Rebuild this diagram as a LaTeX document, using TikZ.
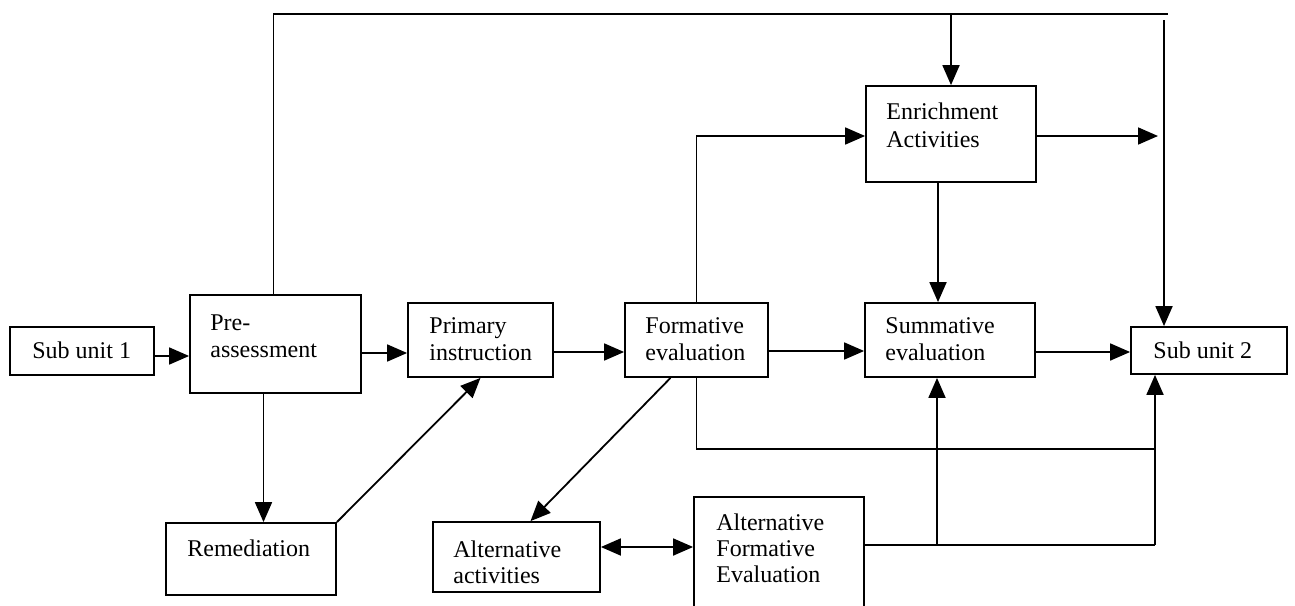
\documentclass[tikz,border=0pt]{standalone}
\usepackage{fontspec}
\setmainfont{Liberation Serif}
\usetikzlibrary{arrows.meta,fit}
\begin{document}
\begin{tikzpicture}[x=0.5pt,y=-0.5pt,
  box/.style={draw, line width=0.9pt, inner sep=0pt, rectangle},
  lbl/.style={anchor=base west, inner sep=0pt, align=left, font=\fontsize{12}{13.5}\selectfont},
  conn/.style={line width=0.9pt},
  arr/.style={conn, -{Triangle[length=10pt,width=8.5pt]}},
  darr/.style={conn, {Triangle[length=10pt,width=8.5pt]}-{Triangle[length=10pt,width=8.5pt]}}]
\clip (0,0) rectangle (1295,605);
\fill[white] (0,0) rectangle (1295,605);
% boxes
\node[box, fit={(10,327) (154,375)}] (su1) {};
\node[box, fit={(190,295) (361,393)}] (pre) {};
\node[box, fit={(408,303) (553,377)}] (prim) {};
\node[box, fit={(625,303) (768,377)}] (form) {};
\node[box, fit={(865,303) (1035,377)}] (summ) {};
\node[box, fit={(1131,327) (1287,374)}] (su2) {};
\node[box, fit={(866,86) (1036,182)}] (enr) {};
\node[box, fit={(166,523) (336,595)}] (rem) {};
\node[box, fit={(433,522) (600,592)}] (aact) {};
\node[box, fit={(694,497) (864,640)}] (afe) {};
% texts (base anchor = baseline of the last line)
\node[lbl] (su1t) at (32,358) {Sub unit 1};
\node[lbl] (pret) at (210,357) {Pre-\\assessment};
\node[lbl] (primt) at (429,360) {Primary\\instruction};
\node[lbl] (formt) at (645,360) {Formative\\evaluation};
\node[lbl] (summt) at (885,360) {Summative\\evaluation};
\node[lbl] (su2t) at (1153,358) {Sub unit 2};
\node[lbl, font=\fontsize{12}{14}\selectfont] (enrt) at (886,147) {Enrichment\\Activities};
\node[lbl] (remt) at (187,556) {Remediation};
\node[lbl, font=\fontsize{12}{13}\selectfont] (aactt) at (453,583) {Alternative\\activities};
\node[lbl, font=\fontsize{12}{13}\selectfont] (afet) at (716,582) {Alternative\\Formative\\Evaluation};
% coordinates
\coordinate (topR) at (1168,14);
\coordinate (rTop) at (1164,20);
\coordinate (bR) at (1155,449);
\coordinate (bR2) at (1155,545);
\coordinate (sB) at (937,545);
% main row
\draw[arr] ([yshift=-2.5pt]su1.east) -- ([yshift=-2.5pt]su1.east -| pre.west);
\draw[arr] ([yshift=-4.5pt]pre.east) -- ([yshift=-4.5pt]pre.east -| prim.west);
\draw[arr] ([yshift=-6pt]prim.east) -- ([yshift=-6pt]prim.east -| form.west);
\draw[arr] ([yshift=-5.5pt]form.east) -- ([yshift=-5.5pt]form.east -| summ.west);
\draw[arr] ([yshift=-6pt]summ.east) -- ([yshift=-6pt]summ.east -| su2.west);
% top loop
\draw[conn] ([xshift=-1pt]pre.north) |- (topR);
\draw[arr] (enr.north |- topR) -- (enr.north);
\draw[arr] (rTop) -- (rTop |- su2.north);
\draw[arr] (form.north) |- ([yshift=-1pt]enr.west);
\draw[arr, shorten >=3pt] ([yshift=-1pt]enr.east) -- ([yshift=-1pt]enr.east -| rTop);
\draw[arr] ([xshift=-6.5pt]enr.south) -- ([xshift=-6.5pt]enr.south |- summ.north);
% bottom loop
\draw[conn] (form.south) |- (bR);
\draw[conn] (afe.east |- bR2) -- (bR2);
\draw[arr] (bR2) -- (bR2 |- su2.south);
\draw[arr] (sB) -- (sB |- summ.south);
% remediation and alternatives
\draw[arr] ([xshift=-6pt]pre.south) -- ([xshift=-6pt]pre.south |- rem.north);
\draw[arr] (rem.north east) -- (prim.south);
\draw[arr] ([xshift=-13pt]form.south) -- ([xshift=7pt]aact.north);
\draw[darr] ([yshift=5pt]aact.east) -- ([yshift=5pt]aact.east -| afe.west);
\end{tikzpicture}
\end{document}
